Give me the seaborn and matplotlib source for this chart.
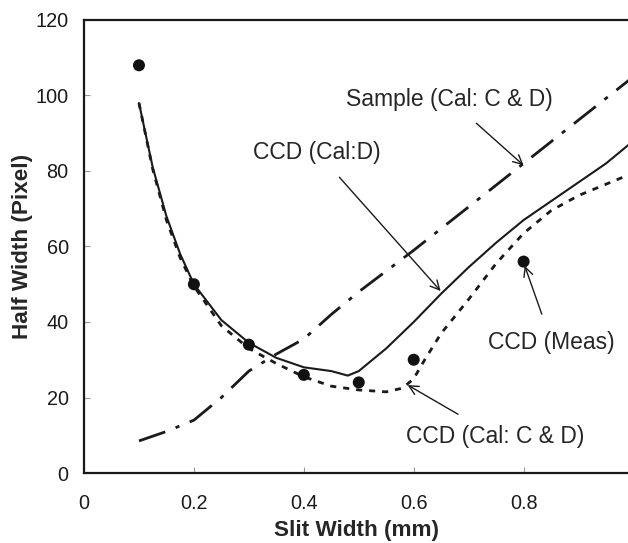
import matplotlib
matplotlib.use("Agg")
import matplotlib.pyplot as plt
import seaborn as sns
import pandas as pd

# Data
meas_x = [0.1, 0.2, 0.3, 0.4, 0.5, 0.6, 0.8]
meas_y = [108, 50, 34, 26, 24, 30, 56]

cald_x = [0.1, 0.125, 0.15, 0.175, 0.2, 0.25, 0.3, 0.35, 0.4, 0.45, 0.48, 0.5, 0.55,
          0.6, 0.65, 0.7, 0.75, 0.8, 0.85, 0.9, 0.95, 1.0]
cald_y = [98, 81, 68, 58, 50, 40.5, 34.5, 30.5, 28, 27, 25.8, 27, 33,
          40, 47.5, 54.5, 61, 67, 72, 77, 82, 88]

calcd_x = [0.1, 0.125, 0.15, 0.175, 0.2, 0.25, 0.3, 0.35, 0.4, 0.45, 0.5, 0.55, 0.58,
           0.6, 0.62, 0.65, 0.7, 0.75, 0.8, 0.85, 0.9, 0.95, 1.0]
calcd_y = [98, 80.5, 67, 57, 49.5, 39, 33, 29, 25.5, 23, 22, 21.5, 22.5,
           25, 30, 37, 46, 55.5, 63.5, 69.5, 73.5, 76.5, 79.5]

sample_x = [0.1, 0.15, 0.2, 0.25, 0.3, 0.35, 0.4, 0.45, 0.5, 0.6, 0.7, 0.8, 0.9, 1.0]
sample_y = [8.5, 11, 14, 20, 27, 31.5, 35.5, 42, 48, 59, 70.5, 82, 93.5, 105]

x_ticks = [0, 0.2, 0.4, 0.6, 0.8]
x_labels = ['0', '0.2', '0.4', '0.6', '0.8']
y_ticks = [0, 20, 40, 60, 80, 100, 120]

sns.set_style("ticks")
plt.rcParams['font.family'] = ['Liberation Sans', 'DejaVu Sans']

fig = plt.figure(figsize=(6.28, 5.43), dpi=100)
ax = fig.add_axes([0.1338, 0.1289, 0.8662, 0.8343])

sns.lineplot(x=sample_x, y=sample_y, ax=ax, color='#1a1a1a', lw=2.0,
             dashes=False, sort=False, estimator=None)
ax.lines[-1].set_dashes([10, 4, 1.5, 4])
sns.lineplot(x=calcd_x, y=calcd_y, ax=ax, color='#1a1a1a', lw=2.0,
             sort=False, estimator=None)
ax.lines[-1].set_dashes([2.2, 2.5])
sns.lineplot(x=cald_x, y=cald_y, ax=ax, color='#1a1a1a', lw=1.5,
             sort=False, estimator=None)
sns.scatterplot(x=meas_x, y=meas_y, ax=ax, color='#111111', s=75,
                edgecolor='none', zorder=5)

ax.set_xlim(0, 0.99)
ax.set_ylim(0, 120)
ax.set_xticks(x_ticks)
ax.set_xticklabels(x_labels)
ax.set_yticks(y_ticks)
ax.tick_params(direction='in', length=4, width=0.8, color='#999999',
               labelsize=14.3, labelcolor='#1a1a1a')
ax.tick_params(axis='y', pad=11)
ax.tick_params(axis='x', pad=15)

for s in ['left', 'bottom', 'top']:
    ax.spines[s].set_linewidth(1.6)
    ax.spines[s].set_color('#1a1a1a')
ax.spines['right'].set_visible(False)

ax.set_xlabel('Slit Width (mm)', fontsize=16.2, fontweight='bold', labelpad=5)
ax.set_ylabel('Half Width (Pixel)', fontsize=16.2, fontweight='bold', labelpad=2)

arrow = dict(arrowstyle='->', color='#1a1a1a', lw=1.0)
fs = 16.5
ax.annotate('Sample (Cal: C & D)', xy=(0.80, 81.5), xytext=(0.665, 99.0),
            fontsize=fs, ha='center', va='center', arrowprops=dict(arrow, shrinkA=10, shrinkB=0))
ax.annotate('CCD (Cal:D)', xy=(0.649, 48.2), xytext=(0.424, 85.0),
            fontsize=fs, ha='center', va='center', arrowprops=dict(arrow, shrinkA=10, shrinkB=0))
ax.annotate('CCD (Meas)', xy=(0.802, 54.9), xytext=(0.851, 34.7),
            fontsize=fs, ha='center', va='center', arrowprops=dict(arrow, shrinkA=10, shrinkB=0))
ax.annotate('CCD (Cal: C & D)', xy=(0.589, 23.3), xytext=(0.749, 9.8),
            fontsize=fs, ha='center', va='center', arrowprops=dict(arrow, shrinkA=10, shrinkB=0))

fig.savefig('out.png', dpi=100)
